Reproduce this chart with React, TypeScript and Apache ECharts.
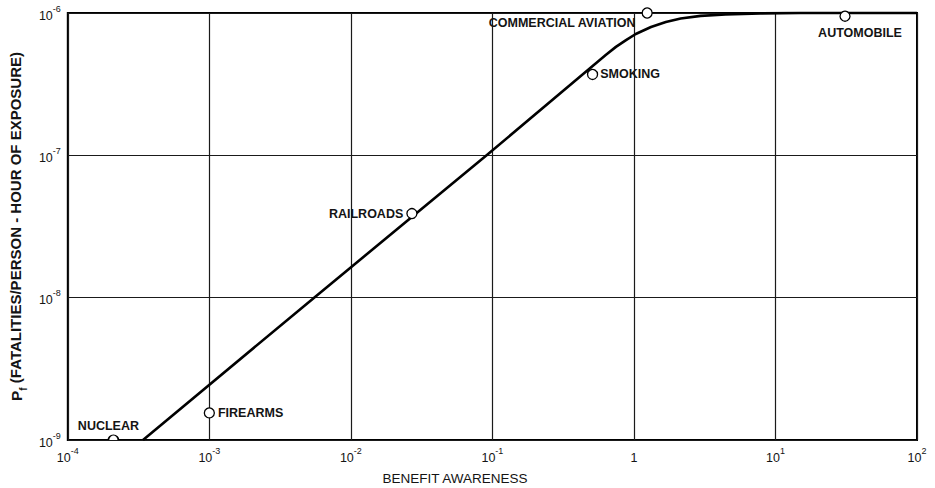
import React, { useEffect, useRef } from "react";
import * as echarts from "echarts";

// Axis ranges (decades)
const xMin = 1e-4;
const xMax = 1e2;
const yMin = 1e-9;
const yMax = 1e-6;

// Labelled activities
const pointNames = ["NUCLEAR", "FIREARMS", "RAILROADS", "SMOKING", "COMMERCIAL AVIATION", "AUTOMOBILE"];
const pointX = [2.1e-4, 1.0e-3, 0.027, 0.51, 1.24, 31];
const pointY = [1e-9, 1.55e-9, 3.9e-8, 3.7e-7, 1e-6, 9.5e-7];

// Trend curve
const curveX = [3.4e-4, 5.5e-3, 0.091, 0.635, 0.746, 0.879, 1.03, 1.32, 1.68, 2.14, 2.96, 4.44, 7.84, 15, 100];
const curveY = [1e-9, 1e-8, 1e-7, 5.09e-7, 5.78e-7, 6.45e-7, 7.12e-7, 7.98e-7, 8.65e-7, 9.16e-7, 9.55e-7, 9.77e-7, 9.93e-7, 1e-6, 1e-6];

const FONT = "Liberation Sans, Arial, sans-serif";
const INK = "#141414";

const labelPlacement: any[] = [
  { position: "inside", offset: [-5, -12] },
  { position: "right", distance: 3 },
  { position: "left", distance: 3 },
  { position: "right", distance: 2 },
  { position: "left", distance: 6, offset: [0, 10] },
  { position: "inside", offset: [15, 17] },
];

const tickFmt = (v: number) => {
  const e = Math.round(Math.log10(v));
  if (e === 0) return "{b|1}";
  return `{b|10}{s|${e}}`;
};

const tickRich = {
  b: { fontSize: 12.5, fontFamily: FONT, color: INK, verticalAlign: "bottom", lineHeight: 18 },
  s: { fontSize: 9, fontFamily: FONT, color: INK, verticalAlign: "top", lineHeight: 18 },
};

export default function App() {
  const ref = useRef<HTMLDivElement>(null);
  useEffect(() => {
    if (!ref.current) return;
    const chart = echarts.init(ref.current, undefined, { renderer: "svg" });
    const points = pointNames.map((n, i) => {
      const item: any = {
        name: n,
        value: [pointX[i], pointY[i]],
        label: { show: true, ...labelPlacement[i] },
      };
      if (i === 0) {
        item.symbol = "path://M0,10 A10,10 0 0 1 20,10";
        item.symbolSize = [10, 5];
        item.symbolOffset = [0, -2.5];
      }
      return item;
    });
    const curve = curveX.map((x, i) => [x, curveY[i]]);
    chart.setOption({
      animation: false,
      backgroundColor: "#fff",
      grid: {
        left: 65,
        right: 18,
        top: 13,
        bottom: 48,
        show: true,
        borderColor: "#000",
        borderWidth: 2,
        backgroundColor: "transparent",
      },
      xAxis: {
        type: "log",
        logBase: 10,
        min: xMin,
        max: xMax,
        axisLine: { show: false },
        axisTick: { show: false },
        splitLine: { show: true, lineStyle: { color: "#1a1a1a", width: 1.2 } },
        axisLabel: { formatter: tickFmt, rich: tickRich, margin: 6 },
      },
      yAxis: {
        type: "log",
        logBase: 10,
        min: yMin,
        max: yMax,
        axisLine: { show: false },
        axisTick: { show: false },
        splitLine: { show: true, lineStyle: { color: "#1a1a1a", width: 1.2 } },
        axisLabel: { formatter: tickFmt, rich: tickRich, margin: 7 },
        name: "{p|P}{f|f}{t| (FATALITIES/PERSON - HOUR OF EXPOSURE)}",
        nameLocation: "middle",
        nameRotate: 90,
        nameGap: 34,
        nameTextStyle: {
          rich: {
            p: { fontSize: 15.5, fontWeight: "bold", fontFamily: FONT, color: INK, verticalAlign: "top", lineHeight: 20 },
            f: { fontSize: 10, fontWeight: "bold", fontFamily: FONT, color: INK, verticalAlign: "bottom", lineHeight: 20 },
            t: { fontSize: 15, fontWeight: "bold", fontFamily: FONT, color: INK, verticalAlign: "top", lineHeight: 20 },
          },
        },
      },
      graphic: [
        {
          type: "text",
          x: 455,
          y: 478,
          style: {
            text: "BENEFIT AWARENESS",
            fontSize: 13.5,
            fontFamily: FONT,
            fill: INK,
            align: "center",
            verticalAlign: "middle",
          },
        },
      ],
      series: [
        {
          type: "line",
          data: curve,
          smooth: false,
          showSymbol: false,
          clip: false,
          lineStyle: { color: "#000", width: 2.6, join: "round" },
          z: 3,
        },
        {
          type: "scatter",
          data: points,
          symbol: "circle",
          symbolSize: 10,
          clip: false,
          itemStyle: { color: "#fff", borderColor: "#000", borderWidth: 1.3, opacity: 1 },
          label: {
            show: true,
            formatter: "{b}",
            fontSize: 12.5,
            fontFamily: FONT,
            fontWeight: "bold",
            color: INK,
          },
          z: 4,
        },
      ],
    });
    return () => chart.dispose();
  }, []);
  return (
    <div
      ref={ref}
      style={{ position: "fixed", left: 0, top: 0, width: 935, height: 488, background: "#fff" }}
    />
  );
}
